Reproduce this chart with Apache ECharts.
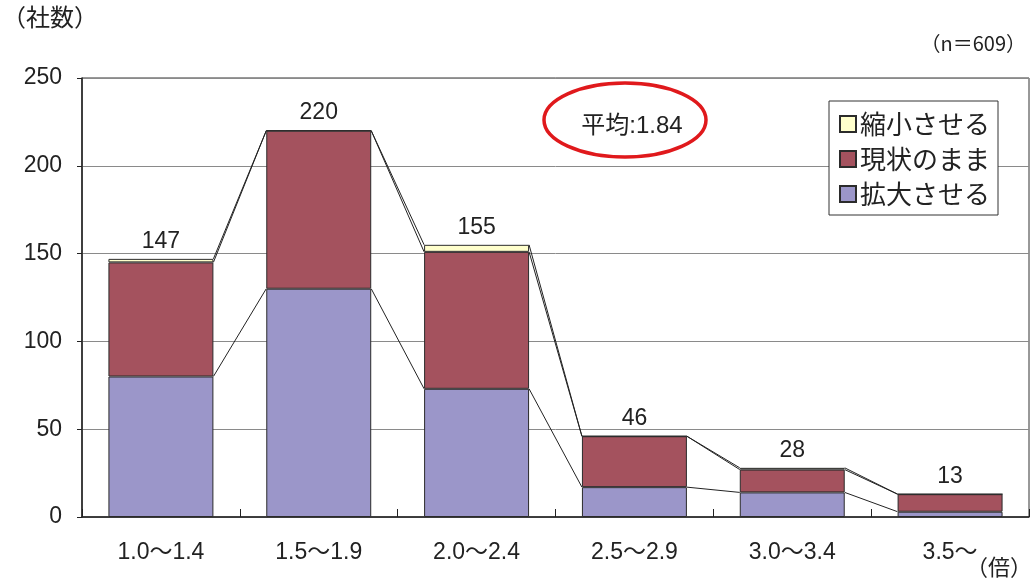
<!DOCTYPE html>
<html>
<head>
<meta charset="utf-8">
<script src="https://cdn.jsdelivr.net/npm/echarts@6/dist/echarts.min.js"></script>
<style>
  html, body { margin: 0; padding: 0; background: #fff; }
  #chart { width: 1032px; height: 585px; }
</style>
</head>
<body>
<div id="chart"></div>
<script>
// 倍率区分ごとの社数（拡大／現状維持／縮小）
const categories = ['1.0～1.4', '1.5～1.9', '2.0～2.4', '2.5～2.9', '3.0～3.4', '3.5～'];
const expand = [80, 130, 73, 17, 14, 3];
const keep = [65, 90, 78, 29, 13, 10];
const shrink = [2, 0, 4, 0, 1, 0];
const totals = [147, 220, 155, 46, 28, 13];
const yTicks = [0, 50, 100, 150, 200, 250];

const FONT = '"Liberation Sans", "Noto Sans CJK JP", sans-serif';
const JP = '"Noto Sans CJK JP", sans-serif';
const BAR_RATIO = 0.665;

// cumulative tops of each stacked segment, used for the connecting series lines
const cum = categories.map((_, i) => [
  expand[i],
  expand[i] + keep[i],
  expand[i] + keep[i] + shrink[i]
]);
const linkData = [];
for (let i = 0; i < categories.length - 1; i++) {
  linkData.push([i].concat(cum[i], cum[i + 1]));
}

const chart = echarts.init(document.getElementById('chart'));

const barStyle = (color) => ({ color: color, borderColor: '#2b2b2b', borderWidth: 1 });

chart.setOption({
  animation: false,
  textStyle: { fontFamily: FONT },
  grid: { left: 82, right: 3, top: 78, bottom: 68, show: true, borderColor: '#333', borderWidth: 1 },
  legend: {
    orient: 'vertical',
    left: 829,
    top: 101,
    padding: [10, 8, 8, 10],
    itemGap: 9,
    itemWidth: 16,
    itemHeight: 16,
    backgroundColor: '#fff',
    borderColor: '#333',
    borderWidth: 1,
    borderRadius: 0,
    icon: 'rect',
    textStyle: { fontFamily: JP, fontSize: 26, color: '#222', padding: [0, 0, 0, -1] },
    data: ['縮小させる', '現状のまま', '拡大させる']
  },
  xAxis: {
    type: 'category',
    data: categories,
    axisLine: { lineStyle: { color: '#222', width: 1.5 } },
    axisTick: { show: true, inside: true, length: 8, lineStyle: { color: '#222' } },
    axisLabel: { fontSize: 23, color: '#222', margin: 24, fontFamily: FONT }
  },
  yAxis: {
    type: 'value',
    min: yTicks[0],
    max: yTicks[yTicks.length - 1],
    interval: 50,
    axisLine: { show: true, lineStyle: { color: '#222', width: 1.5 } },
    axisTick: { show: true, length: 5, lineStyle: { color: '#222' } },
    axisLabel: { fontSize: 23, color: '#222', margin: 20 },
    splitLine: { lineStyle: { color: '#8a8a8a', width: 1 } }
  },
  series: [
    {
      type: 'custom',
      name: 'links',
      z: 1,
      silent: true,
      renderItem: function (params, api) {
        const i = api.value(0);
        const bw = api.size([1, 0])[0] * BAR_RATIO;
        const children = [];
        for (let k = 0; k < 3; k++) {
          const a = api.coord([i, api.value(1 + k)]);
          const b = api.coord([i + 1, api.value(4 + k)]);
          children.push({
            type: 'line',
            shape: { x1: a[0] + bw / 2, y1: a[1], x2: b[0] - bw / 2, y2: b[1] },
            style: { stroke: '#222', lineWidth: 1 }
          });
        }
        return { type: 'group', children: children };
      },
      encode: { x: 0, y: 1 },
      data: linkData
    },
    {
      name: '拡大させる',
      type: 'bar',
      stack: 'total',
      barCategoryGap: '33.5%',
      z: 2,
      itemStyle: barStyle('#9b96c9'),
      data: expand
    },
    {
      name: '現状のまま',
      type: 'bar',
      stack: 'total',
      z: 2,
      itemStyle: barStyle('#a4525e'),
      data: keep
    },
    {
      name: '縮小させる',
      type: 'bar',
      stack: 'total',
      z: 2,
      itemStyle: barStyle('#ffffcc'),
      label: {
        show: true,
        position: 'top',
        distance: 6,
        fontSize: 23,
        color: '#222',
        formatter: (p) => String(totals[p.dataIndex])
      },
      data: shrink
    }
  ],
  graphic: [
    { type: 'text', left: 2, top: 5, style: { text: '（社数）', font: '24px ' + JP, fill: '#222' } },
    { type: 'text', right: 6, top: 33, style: { text: '（n＝609）', font: '20px ' + JP, fill: '#222' } },
    { type: 'text', left: 966, top: 556, style: { text: '（倍）', font: '22px ' + JP, fill: '#222' } },
    {
      type: 'ellipse',
      shape: { cx: 625, cy: 120, rx: 81, ry: 37 },
      style: { fill: 'rgba(0,0,0,0)', stroke: '#e0191c', lineWidth: 3.5 },
      z: 10
    },
    {
      type: 'text',
      x: 632, y: 126,
      style: { text: '平均:1.84', font: '24px ' + FONT, fill: '#222', align: 'center', verticalAlign: 'middle' },
      z: 10
    }
  ]
});
</script>
</body>
</html>
